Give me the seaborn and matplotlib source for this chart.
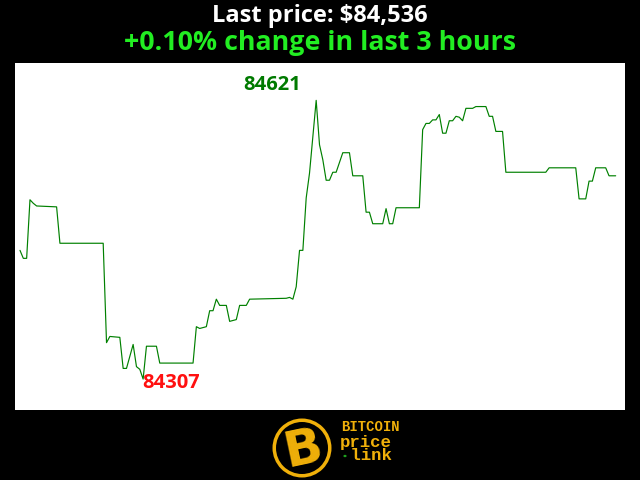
import numpy as np
import pandas as pd
import matplotlib
matplotlib.use('Agg')
import matplotlib.pyplot as plt
import seaborn as sns
from matplotlib.patches import Circle

# minutos (ultimas 3 horas) e precos
minutos = [0, 1, 2, 3, 4, 5, 11, 12, 25, 26, 27, 30, 31, 32, 34, 35, 36, 37, 38, 41,
           42, 52, 53, 54, 56, 57, 58, 59, 60, 62, 63, 65, 66, 68, 69, 80, 81, 82, 83, 84,
           85, 86, 87, 89, 90, 91, 92, 93, 94, 95, 97, 99, 100, 103, 104, 105, 106, 109, 110, 111,
           112, 113, 120, 121, 122, 123, 124, 125, 126, 127, 128, 129, 130, 131, 132, 133, 134, 136, 137, 140,
           141, 142, 143, 145, 146, 158, 159, 167, 168, 170, 171, 172, 173, 176, 177, 179]
precos = [84452, 84443, 84443, 84509, 84505, 84502, 84501, 84460, 84460, 84348, 84355, 84354, 84319, 84319, 84346, 84321, 84318, 84307, 84344, 84344,
          84325, 84325, 84366, 84364, 84366, 84384, 84384, 84397, 84390, 84390, 84372, 84374, 84390, 84390, 84397, 84398, 84399, 84397, 84411, 84452,
          84452, 84511, 84539, 84621, 84571, 84554, 84531, 84531, 84540, 84540, 84562, 84562, 84536, 84536, 84495, 84495, 84482, 84482, 84499, 84482,
          84482, 84500, 84500, 84588, 84595, 84595, 84599, 84599, 84605, 84584, 84584, 84598, 84598, 84603, 84602, 84598, 84612, 84612, 84614, 84614,
          84603, 84603, 84586, 84586, 84540, 84540, 84545, 84545, 84510, 84510, 84530, 84530, 84545, 84545, 84536, 84536]

titulo = 'Last price: $84,536'
subtitulo = '+0.10% change in last 3 hours'

dados = pd.DataFrame({'minuto': minutos, 'preco': precos})
p_max = dados['preco'].max()
p_min = dados['preco'].min()
t_max = dados.loc[dados['preco'].idxmax(), 'minuto']
t_min = dados.loc[dados['preco'].idxmin(), 'minuto']
faixa = p_max - p_min

sns.set_style('white')
plt.rcParams['font.family'] = ['Open Sans', 'DejaVu Sans']

fig = plt.figure(figsize=(6.4, 4.8), dpi=100, facecolor='black')
ax = fig.add_axes([15/640, 1 - 410/480, 610/640, 347/480])
ax.set_facecolor('white')
sns.lineplot(x='minuto', y='preco', data=dados, color='#008000', linewidth=0.85, ax=ax)
ax.set_xlim(-1.5, 181.8)
ax.set_ylim(p_min - 0.111 * faixa, p_max + 0.134 * faixa)
ax.set_xticks([])
ax.set_yticks([])
ax.set_xlabel('')
ax.set_ylabel('')
for s in ax.spines.values():
    s.set_visible(False)

# rotulos de maximo e minimo
ax.text(t_max - 4.5, p_max + 0.055 * faixa, str(p_max), color='#007a00', fontsize=14.5,
        fontweight='bold', ha='right', va='center')
ax.text(t_min - 0.2, p_min - 0.014 * faixa, str(p_min), color='#ff1010', fontsize=14.5,
        fontweight='bold', ha='left', va='center')

# titulos
fig.text(0.5, 1 - 16/480, titulo, color='white', fontsize=17, fontweight='bold',
         ha='center', va='center')
fig.text(0.5, 1 - 43/480, subtitulo, color='#22ee22', fontsize=19.3, fontweight='bold',
         ha='center', va='center')

# logo
ouro = '#f0b00a'
lg = fig.add_axes([270/640, 0, 64/640, 64/480])
lg.set_xlim(0, 64)
lg.set_ylim(0, 64)
lg.set_aspect('equal')
lg.axis('off')
lg.add_patch(Circle((32, 32), 29.5, facecolor=ouro, edgecolor='none'))
lg.add_patch(Circle((32, 32), 26, facecolor='black', edgecolor='none'))
lg.text(33, 31, 'B', color=ouro, fontsize=36, fontweight='bold', rotation=12,
        ha='center', va='center', family=['DejaVu Sans'])

fig.text(341/640, 1 - 434/480, 'BITCOIN', color=ouro, fontsize=10, fontweight='bold',
         family=['Liberation Mono'], ha='left', va='bottom')
fig.text(340/640, 1 - 435/480, 'price\n link', color=ouro, fontsize=12.5, fontweight='bold',
         family=['Liberation Mono'], ha='left', va='top', linespacing=0.8)
fig.patches.append(Circle((345/640, 1 - 456/480), 1.6/640, facecolor='#1fa01f',
                          edgecolor='none', transform=fig.transFigure, figure=fig))

plt.savefig('out.png', dpi=100, facecolor='black')
